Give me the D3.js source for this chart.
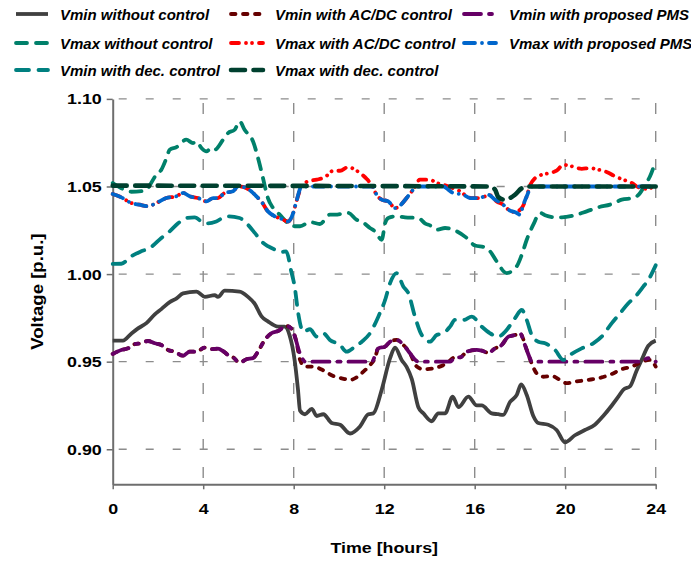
<!DOCTYPE html>
<html><head><meta charset="utf-8">
<script src="https://cdn.jsdelivr.net/npm/d3@7/dist/d3.min.js"></script>
<style>body{margin:0;background:#fff}svg{display:block}</style>
</head><body><svg id="c" width="691" height="561"></svg>
<script>
// ---------------- data ----------------
const hourTicks = [0, 4, 8, 12, 16, 20, 24];
const voltTicks = [0.90, 0.95, 1.00, 1.05, 1.10];
const xTitle = "Time [hours]";
const yTitle = "Voltage [p.u.]";

const vminWithout = [[0,0.962],[0.45,0.962],[0.82,0.966],[1.12,0.969],[1.49,0.972],[1.86,0.977],[2.15,0.980],[2.52,0.984],[2.81,0.986],[3.11,0.989],[3.70,0.990],[4.07,0.987],[4.51,0.988],[4.65,0.987],[4.95,0.9905],[5.61,0.990],[5.98,0.987],[6.28,0.983],[6.57,0.976],[6.86,0.973],[7.31,0.970],[7.60,0.970],[7.82,0.965],[8.04,0.951],[8.19,0.934],[8.28,0.922],[8.50,0.920],[8.80,0.923],[9.02,0.919],[9.31,0.920],[9.68,0.915],[10.05,0.914],[10.49,0.909],[10.93,0.913],[11.30,0.920],[11.52,0.9205],[11.89,0.934],[12.26,0.952],[12.48,0.958],[12.77,0.951],[12.99,0.947],[13.22,0.940],[13.51,0.924],[13.73,0.9205],[14.10,0.916],[14.39,0.9205],[14.69,0.9205],[15.03,0.930],[15.28,0.924],[15.72,0.930],[16.09,0.925],[16.31,0.925],[16.75,0.9205],[17.04,0.920],[17.26,0.9196],[17.56,0.927],[17.86,0.931],[18.05,0.937],[18.30,0.931],[18.59,0.919],[18.81,0.915],[19.25,0.914],[19.62,0.911],[19.99,0.904],[20.43,0.908],[20.87,0.911],[21.31,0.914],[21.68,0.919],[22.06,0.925],[22.35,0.930],[22.57,0.934],[22.87,0.936],[23.16,0.945],[23.38,0.951],[23.67,0.959],[24,0.962]];

const vmaxWithout = [[0,1.052],[0.38,1.049],[0.82,1.047],[1.41,1.0476],[1.93,1.0567],[2.15,1.0596],[2.37,1.066],[2.52,1.071],[2.81,1.0724],[3.25,1.0767],[3.55,1.0748],[3.70,1.0758],[3.92,1.072],[4.14,1.070],[4.36,1.072],[4.51,1.071],[4.88,1.0767],[5.10,1.0805],[5.39,1.0824],[5.61,1.0872],[5.83,1.0824],[6.20,1.0758],[6.50,1.0624],[6.64,1.0549],[6.86,1.0434],[7.09,1.0377],[7.38,1.0339],[7.75,1.029],[8.04,1.0273],[8.28,1.0273],[8.72,1.0297],[9.16,1.0286],[9.60,1.0339],[9.83,1.0339],[10.41,1.0349],[10.78,1.031],[11.01,1.030],[11.37,1.0263],[11.59,1.0244],[11.89,1.0196],[12.04,1.029],[12.18,1.032],[12.55,1.033],[12.92,1.0324],[13.51,1.032],[13.80,1.029],[14.10,1.0273],[14.32,1.0253],[14.69,1.0263],[15.05,1.0253],[15.65,1.0206],[16.01,1.0163],[16.46,1.0153],[16.68,1.013],[16.97,1.0073],[17.41,1.0006],[17.86,1.0045],[18.08,1.011],[18.30,1.0196],[18.59,1.0282],[18.89,1.0349],[19.11,1.0336],[19.55,1.0324],[19.85,1.0324],[20.43,1.0336],[20.95,1.0358],[21.46,1.0381],[22.06,1.040],[22.50,1.0425],[23.01,1.0434],[23.31,1.0463],[23.53,1.051],[23.75,1.0558],[24,1.0647]];

const vminDec = [[0,1.0058],[0.38,1.0059],[0.82,1.0102],[1.26,1.013],[1.64,1.0149],[2.15,1.0206],[2.52,1.0244],[2.89,1.029],[3.25,1.032],[3.62,1.0324],[4.07,1.029],[4.21,1.029],[4.58,1.030],[5.02,1.033],[5.61,1.032],[5.91,1.029],[6.28,1.0235],[6.57,1.0187],[6.86,1.0159],[7.16,1.014],[7.45,1.0126],[7.67,1.013],[7.89,1.0016],[8.04,0.993],[8.20,0.9776],[8.42,0.9671],[8.72,0.9685],[9.02,0.9643],[9.31,0.9662],[9.60,0.9624],[10.05,0.9595],[10.34,0.9557],[10.71,0.9586],[11.01,0.9614],[11.37,0.9662],[11.74,0.9757],[12.04,0.9852],[12.26,0.9948],[12.55,1.0005],[12.85,0.9928],[13.07,0.989],[13.36,0.9757],[13.66,0.9652],[14.02,0.9614],[14.32,0.9652],[14.61,0.9662],[14.91,0.970],[15.13,0.9738],[15.50,0.9738],[15.87,0.9757],[16.31,0.970],[16.68,0.9662],[17.04,0.9643],[17.34,0.967],[17.78,0.9748],[18.08,0.9795],[18.30,0.9738],[18.52,0.9652],[18.81,0.9614],[19.11,0.9605],[19.55,0.9567],[19.92,0.951],[20.21,0.9538],[20.73,0.9576],[21.24,0.9605],[21.61,0.9643],[22.06,0.972],[22.42,0.9776],[22.79,0.9833],[23.16,0.988],[23.45,0.9928],[23.67,0.9966],[24,1.005]];

const vmaxDec = [[0,1.0505],[16.68,1.050],[16.90,1.0482],[17.04,1.0440],[17.30,1.0425],[17.56,1.0434],[17.78,1.0453],[18.08,1.049],[18.30,1.050],[24,1.050]];

const vminACDC = [[0,0.9544],[0.38,0.9567],[0.68,0.9576],[0.97,0.960],[1.26,0.9605],[1.56,0.9618],[1.86,0.9605],[2.15,0.9595],[2.44,0.9567],[2.74,0.9557],[3.11,0.9534],[3.40,0.9557],[3.70,0.9557],[4.07,0.958],[4.36,0.9571],[4.65,0.9574],[4.88,0.956],[5.10,0.9538],[5.32,0.9525],[5.61,0.9494],[5.91,0.9514],[6.20,0.952],[6.42,0.9557],[6.72,0.9624],[7.01,0.9662],[7.31,0.9675],[7.67,0.9704],[7.89,0.969],[8.12,0.9614],[8.28,0.951],[8.50,0.9472],[8.87,0.9472],[9.31,0.945],[9.75,0.9418],[10.12,0.9405],[10.49,0.9396],[10.78,0.941],[11.08,0.9443],[11.37,0.948],[11.59,0.952],[11.74,0.9576],[12.04,0.9586],[12.26,0.9614],[12.55,0.9624],[12.85,0.9595],[13.14,0.9548],[13.44,0.9472],[13.73,0.9457],[14.17,0.9462],[14.61,0.948],[14.76,0.949],[15.13,0.9525],[15.36,0.9525],[15.65,0.9557],[16.09,0.9567],[16.31,0.9563],[16.60,0.9551],[16.90,0.9576],[17.19,0.9595],[17.49,0.9643],[17.78,0.9652],[18.00,0.9662],[18.30,0.9567],[18.52,0.949],[18.74,0.9433],[19.03,0.9414],[19.40,0.9418],[19.77,0.9396],[20.07,0.9377],[20.43,0.9386],[21.02,0.9396],[21.61,0.941],[22.06,0.943],[22.50,0.9457],[22.94,0.9472],[23.24,0.949],[23.53,0.9506],[23.75,0.951],[24,0.9472]];

const vmaxACDC = [[0,1.0457],[0.38,1.0438],[0.82,1.0406],[1.19,1.0396],[1.56,1.0387],[1.93,1.0406],[2.37,1.0434],[2.81,1.0444],[3.11,1.0463],[3.40,1.0444],[3.77,1.0434],[4.14,1.0415],[4.44,1.0434],[4.65,1.0434],[4.95,1.0463],[5.32,1.0473],[5.54,1.050],[5.83,1.0495],[6.12,1.0473],[6.35,1.0444],[6.57,1.0415],[6.86,1.0358],[7.16,1.033],[7.45,1.0316],[7.75,1.030],[7.98,1.0349],[8.12,1.0415],[8.35,1.050],[8.64,1.053],[9.02,1.0539],[9.38,1.0553],[9.75,1.059],[10.05,1.059],[10.41,1.0611],[10.71,1.0596],[10.93,1.0577],[11.23,1.0543],[11.45,1.0507],[11.66,1.0453],[11.89,1.0425],[12.18,1.0415],[12.48,1.0377],[12.77,1.040],[12.99,1.0434],[13.28,1.0482],[13.58,1.0539],[14.02,1.0539],[14.32,1.052],[14.69,1.0507],[15.05,1.049],[15.35,1.0473],[15.65,1.0444],[15.87,1.0434],[16.16,1.0434],[16.31,1.0438],[16.68,1.045],[16.97,1.0415],[17.26,1.0396],[17.49,1.0368],[17.78,1.0354],[18.08,1.0377],[18.30,1.0444],[18.45,1.0507],[18.67,1.0548],[18.89,1.0564],[19.33,1.0577],[19.62,1.059],[19.92,1.0624],[20.29,1.0615],[20.73,1.0601],[21.09,1.0605],[21.46,1.0596],[21.83,1.0583],[22.28,1.0553],[22.57,1.0539],[22.94,1.052],[23.24,1.0495],[23.53,1.0487],[23.75,1.049],[24,1.052]];

const vminPMS = [[0,0.9544],[0.38,0.9567],[0.68,0.9576],[0.97,0.960],[1.26,0.9605],[1.56,0.9618],[1.86,0.9605],[2.15,0.9595],[2.44,0.9567],[2.74,0.9557],[3.11,0.9534],[3.40,0.9557],[3.70,0.9557],[4.07,0.958],[4.36,0.9571],[4.65,0.9574],[4.88,0.956],[5.10,0.9538],[5.32,0.9525],[5.61,0.9494],[5.91,0.9514],[6.20,0.952],[6.42,0.9557],[6.72,0.9624],[7.01,0.9662],[7.31,0.9675],[7.67,0.9704],[7.89,0.969],[8.12,0.9614],[8.20,0.9576],[8.42,0.951],[8.5,0.950],[11.45,0.950],[11.74,0.9576],[12.04,0.9586],[12.26,0.9614],[12.55,0.9624],[12.85,0.9595],[13.14,0.9548],[13.41,0.9506],[13.5,0.950],[14.92,0.950],[15.13,0.9525],[15.36,0.9525],[15.65,0.9557],[16.09,0.9567],[16.31,0.9563],[16.60,0.9551],[16.90,0.9576],[17.19,0.9595],[17.49,0.9643],[17.78,0.9652],[18.00,0.9662],[18.22,0.9595],[18.44,0.952],[18.52,0.950],[23.33,0.950],[23.67,0.952],[24,0.950]];

const vmaxPMS = [[0,1.0457],[0.38,1.0438],[0.82,1.0406],[1.19,1.0396],[1.56,1.0387],[1.93,1.0406],[2.37,1.0434],[2.81,1.0444],[3.11,1.0463],[3.40,1.0444],[3.77,1.0434],[4.14,1.0415],[4.44,1.0434],[4.65,1.0434],[4.95,1.0463],[5.32,1.0473],[5.54,1.050],[5.83,1.0495],[6.12,1.0473],[6.35,1.0444],[6.57,1.0415],[6.86,1.0358],[7.16,1.033],[7.45,1.0316],[7.75,1.030],[7.98,1.0349],[8.12,1.0415],[8.35,1.050],[11.52,1.050],[11.66,1.0453],[11.89,1.0425],[12.18,1.0415],[12.48,1.0377],[12.77,1.040],[12.99,1.0434],[13.28,1.0482],[13.44,1.050],[14.61,1.050],[14.83,1.0482],[15.05,1.0463],[15.50,1.0453],[15.79,1.0434],[16.16,1.0434],[16.31,1.0438],[16.60,1.0453],[16.90,1.0425],[17.26,1.0396],[17.49,1.0368],[17.86,1.0349],[18.00,1.0339],[18.15,1.0396],[18.30,1.0444],[18.52,1.050],[24,1.050]];

// legend / series names (in the order they are drawn)
const seriesNames = ["Vmin without control","Vmin with AC/DC control","Vmin with proposed PMS",
                     "Vmax without control","Vmax with AC/DC control","Vmax with proposed PMS",
                     "Vmin with dec. control","Vmax with dec. control"];
const seriesData = [vminWithout, vminACDC, vminPMS, vmaxWithout, vmaxACDC, vmaxPMS, vminDec, vmaxDec];

// ---------------- styles ----------------
const styles = [
  {color:"#404040", width:3.8, dash:null},
  {color:"#660000", width:3.8, dash:"4.5,7.5"},
  {color:"#660066", width:3.8, dash:"17,8,3,8"},
  {color:"#00806a", width:3.8, dash:"11,9"},
  {color:"#ff0000", width:3.8, dash:"8,7,0.01,6,0.01,7"},
  {color:"#0066cc", width:3.8, dash:"11,7,0.01,7"},
  {color:"#008080", width:3.8, dash:"13,9.5"},
  {color:"#00402f", width:4.6, dash:"14,8.5"}
];

const FONT = "'Liberation Sans', Arial, sans-serif";
const FS = 15.5, SX = 1.15;
const LFS = 15;

const svg = d3.select("#c");
const x = d3.scaleLinear().domain([0, 24]).range([112.7, 655.7]);
const y = d3.scaleLinear().domain([0.88, 1.10]).range([484.3, 98.9]);

// grid
const grid = svg.append("g");
grid.selectAll("line.h").data(voltTicks).join("line")
  .attr("x1", x(0)).attr("x2", x(24)).attr("y1", d => y(d)).attr("y2", d => y(d))
  .attr("stroke", "#8c8c8c").attr("stroke-width", 1.4).attr("stroke-dasharray", "8,19").attr("stroke-dashoffset", -6);
grid.selectAll("line.v").data(hourTicks.slice(1)).join("line")
  .attr("x1", d => x(d)).attr("x2", d => x(d)).attr("y1", y(1.10)).attr("y2", y(0.88))
  .attr("stroke", "#8c8c8c").attr("stroke-width", 1.4).attr("stroke-dasharray", "11,17").attr("stroke-dashoffset", -4);

// axes
const yAxis = d3.axisLeft(y).tickValues(voltTicks).tickFormat(d3.format(".2f")).tickSize(6).tickSizeOuter(0).tickPadding(5);
const xAxis = d3.axisBottom(x).tickValues(hourTicks).tickFormat(d3.format("d")).tickSize(5).tickSizeOuter(0).tickPadding(14);
const gy = svg.append("g").attr("transform", `translate(${x(0)},0)`).call(yAxis);
const gx = svg.append("g").attr("transform", `translate(0,${y(0.88)})`).call(xAxis);
[gx, gy].forEach(g => {
  g.select(".domain").attr("stroke", "#6e6e6e").attr("stroke-width", 2);
  g.selectAll(".tick line").attr("stroke", "#6e6e6e").attr("stroke-width", 1.5);
  g.selectAll(".tick text").attr("fill", "#000").attr("font-family", FONT)
    .attr("font-size", FS).attr("font-weight", "bold");
});
gy.selectAll(".tick text").each(function() {
  const t = d3.select(this); const xx = +t.attr("x");
  t.attr("x", null).attr("transform", `translate(${xx},0) scale(${SX},1)`);
});
gx.selectAll(".tick text").each(function() {
  const t = d3.select(this); const yy = +t.attr("y");
  t.attr("y", null).attr("transform", `translate(0,${yy}) scale(${SX},1)`);
});

// axis titles
svg.append("text").attr("transform", `translate(${x(12)},553) scale(${SX},1)`)
  .attr("text-anchor", "middle").attr("font-family", FONT).attr("font-size", FS)
  .attr("font-weight", "bold").text(xTitle);
svg.append("text").attr("transform", `translate(43,${(y(0.88)+y(1.10))/2}) rotate(-90) scale(1.2,1.1)`)
  .attr("text-anchor", "middle").attr("font-family", FONT).attr("font-size", FS)
  .attr("font-weight", "bold").text(yTitle);

// series
const line = d3.line().x(d => x(d[0])).y(d => y(d[1])).curve(d3.curveMonotoneX);
svg.append("g").selectAll("path").data(seriesData).join("path")
  .attr("d", line).attr("fill", "none")
  .attr("stroke", (d, i) => styles[i].color)
  .attr("stroke-width", (d, i) => styles[i].width)
  .attr("stroke-dasharray", (d, i) => styles[i].dash)
  .attr("stroke-linecap", (d, i) => styles[i].dash ? "round" : "butt")
  .attr("stroke-linejoin", "round");

// legend
const legCols = [14, 229, 462];
const legTextX = [60, 275, 509];
const legRows = [14, 43, 70];
const legend = svg.append("g");
seriesNames.forEach((name, i) => {
  const col = i % 3, row = Math.floor(i / 3);
  const ly = legRows[row];
  legend.append("line").attr("x1", legCols[col] + 2).attr("x2", legCols[col] + 34).attr("y1", ly).attr("y2", ly)
    .attr("stroke", styles[i].color).attr("stroke-width", styles[i].width)
    .attr("stroke-dasharray", styles[i].dash)
    .attr("stroke-linecap", styles[i].dash ? "round" : "butt");
  legend.append("text").attr("x", legTextX[col]).attr("y", ly + 5.5)
    .attr("font-family", FONT).attr("font-size", LFS).attr("font-weight", "bold")
    .attr("font-style", "italic").text(name);
});
</script></body></html>
